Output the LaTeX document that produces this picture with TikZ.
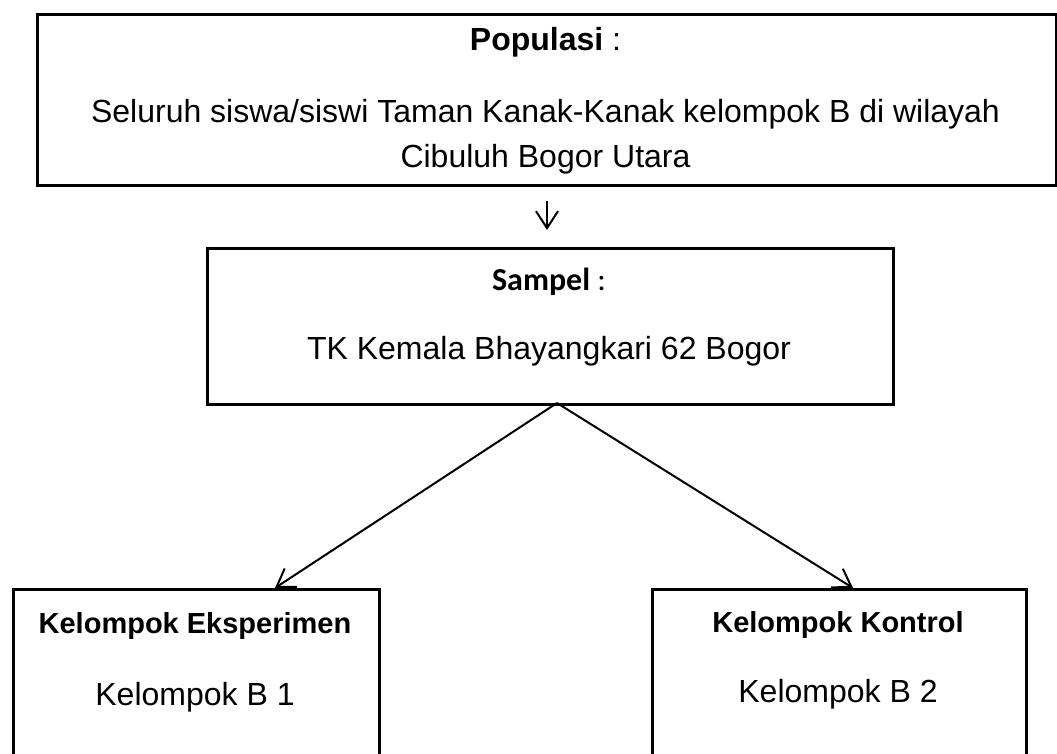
\documentclass[tikz,border=0pt]{standalone}
\usepackage{fontspec}
\setmainfont{Liberation Sans}
\newfontfamily\calibrifont{Carlito}
\usetikzlibrary{arrows.meta}

\tikzset{
    box/.style={draw, line width=3pt, anchor=north west, inner sep=0pt},
    txt/.style={anchor=base, inner sep=0pt, font=\fontsize{32}{38}\selectfont},
    head/.style={anchor=base, inner sep=0pt, font=\fontsize{29}{35}\selectfont\bfseries},
    link/.style={line width=2pt, -{Straight Barb[length=17pt,width=22pt]}}
}

\begin{document}
\begin{tikzpicture}[x=1pt, y=-1pt]
    \clip (0,0) rectangle (1057,753);

    \node[box, minimum width=1019pt, minimum height=171pt] (popbox) at (36,13) {};
    \node[box, minimum width=686pt, minimum height=156pt] (sampbox) at (206,247) {};
    \node[box, minimum width=366pt, minimum height=220pt] (eksbox) at (12,588) {};
    \node[box, minimum width=374pt, minimum height=220pt] (konbox) at (651,588) {};

    \coordinate (apex) at (557,403);
    \coordinate (eks_in) at (275,588);
    \coordinate (kon_in) at (853,588);

    \draw[link, shorten <=14pt, shorten >=17pt] (popbox.south) -- (popbox.south |- sampbox.north);
    \draw[link] (apex) -- (eks_in);
    \draw[link] (apex) -- (kon_in);

    \node[txt] (pop_title) at (545.5,50) {\textbf{Populasi} :};
    \node[txt] (pop_line1) at (545.5,122) {Seluruh siswa/siswi Taman Kanak-Kanak kelompok B di wilayah};
    \node[txt] (pop_line2) at (545.5,167) {Cibuluh Bogor Utara};

    \node[txt, font=\fontsize{32}{38}\selectfont\calibrifont] (samp_title) at (549,290) {\textbf{Sampel} :};
    \node[txt] (samp_line) at (549,359) {TK Kemala Bhayangkari 62 Bogor};

    \node[head] (eks_title) at (195,633) {Kelompok Eksperimen};
    \node[txt] (eks_line) at (195,705) {Kelompok B 1};

    \node[head] (kon_title) at (838,632) {Kelompok Kontrol};
    \node[txt] (kon_line) at (838,702) {Kelompok B 2};
\end{tikzpicture}
\end{document}
